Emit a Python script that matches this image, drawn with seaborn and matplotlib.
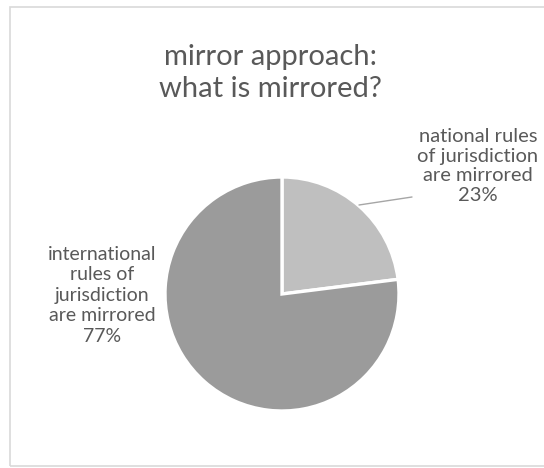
import matplotlib
matplotlib.use("Agg")
import matplotlib.pyplot as plt
from matplotlib.patches import Rectangle
import seaborn as sns

# Data
categories = ["national rules\nof jurisdiction\nare mirrored",
              "international\nrules of\njurisdiction\nare mirrored"]
shares = [23, 77]
slice_colors = ["#bfbfbf", "#9b9b9b"]
title_text = "mirror approach:\nwhat is mirrored?"

sns.set_theme(style="white")
plt.rcParams['font.family'] = ['Lato', 'DejaVu Sans']

W, H = 544, 468
fig = plt.figure(figsize=(W / 100, H / 100), dpi=100)
fig.patch.set_facecolor("white")
ax = fig.add_axes([0, 0, 1, 1])

# outer frame
ax.add_patch(Rectangle((10, H - 466), W + 10, 459, fill=False,
                       edgecolor="#d9d9d9", linewidth=1.2))

cx, cy, r = 282, H - 294, 117
ax.pie(shares, colors=slice_colors, startangle=90, counterclock=False,
       center=(cx, cy), radius=r, frame=True,
       wedgeprops=dict(edgecolor="white", linewidth=2.4))
ax.set_xlim(0, W)
ax.set_ylim(0, H)
ax.set_aspect("equal")
ax.axis("off")

txt = "#595959"
ax.text(270, H - 73, title_text, ha="center", va="center", fontsize=21,
        color=txt, linespacing=1.25)

ax.text(478, H - 166, f"{categories[0]}\n{shares[0]}%", ha="center",
        va="center", fontsize=14.5, color=txt, linespacing=1.18)
ax.text(102, H - 295, f"{categories[1]}\n{shares[1]}%", ha="center",
        va="center", fontsize=14, color=txt, linespacing=1.25)

# leader line
ax.plot([359, 412], [H - 205, H - 197], color="#a6a6a6", linewidth=1)

fig.savefig("out.png", dpi=100, facecolor="white")
